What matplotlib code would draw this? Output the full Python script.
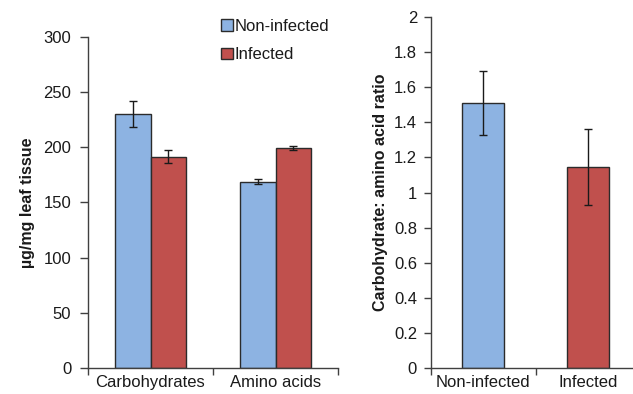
import matplotlib
matplotlib.use("Agg")
import matplotlib.pyplot as plt
from matplotlib.patches import Patch
import numpy as np

plt.rcParams['font.family'] = ['Liberation Sans', 'DejaVu Sans']

categories = ["Carbohydrates", "Amino acids"]
series = ["Non-infected", "Infected"]
non_infected = [230, 169]
non_infected_err = [12, 2]
infected = [191.5, 199.5]
infected_err = [6, 2]

ratio_labels = ["Non-infected", "Infected"]
ratio_values = [1.51, 1.145]
ratio_err = [0.18, 0.215]

left_yticks = [0, 50, 100, 150, 200, 250, 300]
right_yticks = [0, 0.2, 0.4, 0.6, 0.8, 1, 1.2, 1.4, 1.6, 1.8, 2]

blue = "#8DB3E2"
red = "#C0504D"
edge = "#2b2b2b"
text_color = "#1a1a1a"

W, H = 633, 394
fig = plt.figure(figsize=(W / 100, H / 100), dpi=100)

def px_axes(x0, x1, ytop, ybot):
    return fig.add_axes([x0 / W, (H - ybot) / H, (x1 - x0) / W, (ybot - ytop) / H])

ax1 = px_axes(88, 338, 37, 368)
ax2 = px_axes(431, 640, 17, 368)

def style(ax, ypad, ylen):
    for s in ["top", "right"]:
        ax.spines[s].set_visible(False)
    for s in ["left", "bottom"]:
        ax.spines[s].set_color("#404040")
        ax.spines[s].set_linewidth(1.0)
    ax.tick_params(axis="y", direction="out", length=ylen, width=1, color="#404040",
                   labelsize=12, labelcolor=text_color, pad=ypad)
    ax.tick_params(axis="x", which="major", length=0, labelsize=12,
                   labelcolor=text_color, pad=5)
    ax.tick_params(axis="x", which="minor", direction="out", length=5, width=1,
                   color="#404040")

# Left chart
n = len(categories)
x = np.arange(n)
bw = 1 / 3.5
ax1.bar(x - bw / 2, non_infected, bw, color=blue, edgecolor=edge, linewidth=1.0,
        yerr=non_infected_err, error_kw=dict(ecolor="#1a1a1a", elinewidth=1, capsize=3, capthick=1),
        zorder=2)
ax1.bar(x + bw / 2, infected, bw, color=red, edgecolor=edge, linewidth=1.0,
        yerr=infected_err, error_kw=dict(ecolor="#1a1a1a", elinewidth=1, capsize=3, capthick=1),
        zorder=2)
ax1.set_xlim(-0.5, n - 0.5)
ax1.set_ylim(0, 300)
ax1.set_yticks(left_yticks)
ax1.set_xticks(x)
ax1.set_xticklabels(categories)
ax1.set_xticks(np.arange(-0.5, n, 1.0), minor=True)
style(ax1, 6, 6)
ax1.set_ylabel("µg/mg leaf tissue", fontsize=11.5, fontweight="bold", color=text_color, labelpad=6)

# Right chart
m = len(ratio_labels)
x2 = np.arange(m)
ax2.bar(x2, ratio_values, 0.4, color=[blue, red], edgecolor=edge, linewidth=1.0,
        yerr=ratio_err, error_kw=dict(ecolor="#1a1a1a", elinewidth=1, capsize=3, capthick=1),
        zorder=2)
ax2.set_xlim(-0.5, m - 0.5)
ax2.set_ylim(0, 2)
ax2.set_yticks(right_yticks)
ax2.set_yticklabels(["0", "0.2", "0.4", "0.6", "0.8", "1", "1.2", "1.4", "1.6", "1.8", "2"])
ax2.set_xticks(x2)
ax2.set_xticklabels(ratio_labels)
ax2.set_xticks(np.arange(-0.5, m, 1.0), minor=True)
style(ax2, 5, 5)
ax2.set_ylabel("Carbohydrate: amino acid ratio", fontsize=11.5, fontweight="bold", color=text_color, labelpad=4)

handles = [Patch(facecolor=blue, edgecolor=edge, linewidth=1.0),
           Patch(facecolor=red, edgecolor=edge, linewidth=1.0)]
fig.legend(handles, series, loc="upper left", bbox_to_anchor=(221 / W, 1 - 19 / H),
           frameon=False, fontsize=12, handlelength=0.7, handleheight=0.7,
           handletextpad=0.1, labelspacing=0.8, borderaxespad=0, borderpad=0,
           labelcolor=text_color)

fig.savefig("out.png", dpi=100)
